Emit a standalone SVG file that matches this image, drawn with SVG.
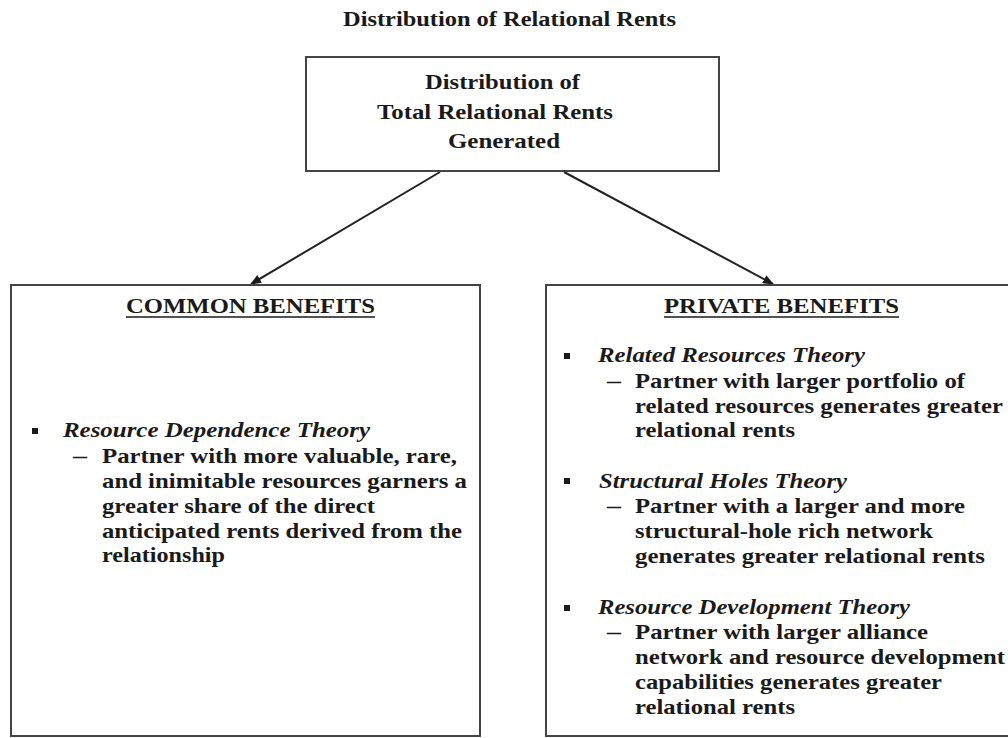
<svg xmlns="http://www.w3.org/2000/svg" width="1008" height="738" viewBox="0 0 1008 738">
<defs>
<marker id="ah" markerWidth="11" markerHeight="9" refX="10" refY="4.5" orient="auto" markerUnits="userSpaceOnUse">
<path d="M0,0 L11,4.5 L0,9 Z" fill="#1a1a1a"/>
</marker>
<style>
.t{font-family:"Liberation Serif","Times New Roman",serif;font-weight:bold;fill:#1a1a1a;font-size:21px}
.it{font-style:italic}
.hd{font-size:22px}
.bx{font-size:22px}
.box{fill:#fff;stroke:#444;stroke-width:2}
.bul{fill:#1a1a1a}
.ul{stroke:#1a1a1a;stroke-width:1.5}
</style>
</defs>
<rect width="1008" height="738" fill="#fff"/>
<text class="t" x="343" y="26" style="font-size:20px" textLength="333" lengthAdjust="spacingAndGlyphs">Distribution of Relational Rents</text>
<g id="connectors" stroke="#222" stroke-width="2" fill="none">
<line x1="440" y1="172" x2="251" y2="284" marker-end="url(#ah)"/>
<line x1="564" y1="172" x2="773" y2="284" marker-end="url(#ah)"/>
</g>
<g id="top">
<rect class="box" x="306" y="57" width="413" height="114"/>
<text class="t bx" x="425" y="89" textLength="155" lengthAdjust="spacingAndGlyphs">Distribution of</text>
<text class="t bx" x="377" y="119" textLength="236" lengthAdjust="spacingAndGlyphs">Total Relational Rents</text>
<text class="t bx" x="448" y="148" textLength="112" lengthAdjust="spacingAndGlyphs">Generated</text>
</g>
<g id="common">
<rect class="box" x="11" y="285" width="469" height="451"/>
<text class="t hd" x="126" y="313" textLength="249" lengthAdjust="spacingAndGlyphs">COMMON BENEFITS</text>
<line class="ul" x1="126" y1="317" x2="375" y2="317"/>
<rect class="bul" x="32" y="428" width="6" height="6"/>
<text class="t it" x="63" y="437" textLength="307" lengthAdjust="spacingAndGlyphs">Resource Dependence Theory</text>
<text class="t" x="73" y="463" textLength="14" lengthAdjust="spacingAndGlyphs">–</text>
<text class="t" x="102" y="463" textLength="355" lengthAdjust="spacingAndGlyphs">Partner with more valuable, rare,</text>
<text class="t" x="102" y="488" textLength="365" lengthAdjust="spacingAndGlyphs">and inimitable resources garners a</text>
<text class="t" x="102" y="513" textLength="273" lengthAdjust="spacingAndGlyphs">greater share of the direct</text>
<text class="t" x="102" y="538" textLength="360" lengthAdjust="spacingAndGlyphs">anticipated rents derived from the</text>
<text class="t" x="102" y="562" textLength="123" lengthAdjust="spacingAndGlyphs">relationship</text>
</g>
<g id="private">
<rect class="box" x="546" y="285" width="470" height="451"/>
<text class="t hd" x="664" y="313" textLength="235" lengthAdjust="spacingAndGlyphs">PRIVATE BENEFITS</text>
<line class="ul" x1="664" y1="317" x2="899" y2="317"/>
<rect class="bul" x="564" y="353" width="6" height="6"/>
<text class="t it" x="598" y="362" textLength="267" lengthAdjust="spacingAndGlyphs">Related Resources Theory</text>
<text class="t" x="607" y="388" textLength="14" lengthAdjust="spacingAndGlyphs">–</text>
<text class="t" x="635" y="388" textLength="330" lengthAdjust="spacingAndGlyphs">Partner with larger portfolio of</text>
<text class="t" x="635" y="413" textLength="368" lengthAdjust="spacingAndGlyphs">related resources generates greater</text>
<text class="t" x="635" y="437" textLength="160" lengthAdjust="spacingAndGlyphs">relational rents</text>
<rect class="bul" x="564" y="478" width="6" height="6"/>
<text class="t it" x="599" y="488" textLength="248" lengthAdjust="spacingAndGlyphs">Structural Holes Theory</text>
<text class="t" x="607" y="513" textLength="14" lengthAdjust="spacingAndGlyphs">–</text>
<text class="t" x="635" y="513" textLength="330" lengthAdjust="spacingAndGlyphs">Partner with a larger and more</text>
<text class="t" x="635" y="538" textLength="298" lengthAdjust="spacingAndGlyphs">structural-hole rich network</text>
<text class="t" x="635" y="563" textLength="350" lengthAdjust="spacingAndGlyphs">generates greater relational rents</text>
<rect class="bul" x="564" y="605" width="6" height="6"/>
<text class="t it" x="598" y="614" textLength="312" lengthAdjust="spacingAndGlyphs">Resource Development Theory</text>
<text class="t" x="607" y="639" textLength="14" lengthAdjust="spacingAndGlyphs">–</text>
<text class="t" x="635" y="639" textLength="293" lengthAdjust="spacingAndGlyphs">Partner with larger alliance</text>
<text class="t" x="635" y="664" textLength="370" lengthAdjust="spacingAndGlyphs">network and resource development</text>
<text class="t" x="635" y="689" textLength="307" lengthAdjust="spacingAndGlyphs">capabilities generates greater</text>
<text class="t" x="635" y="714" textLength="160" lengthAdjust="spacingAndGlyphs">relational rents</text>
</g>
</svg>
